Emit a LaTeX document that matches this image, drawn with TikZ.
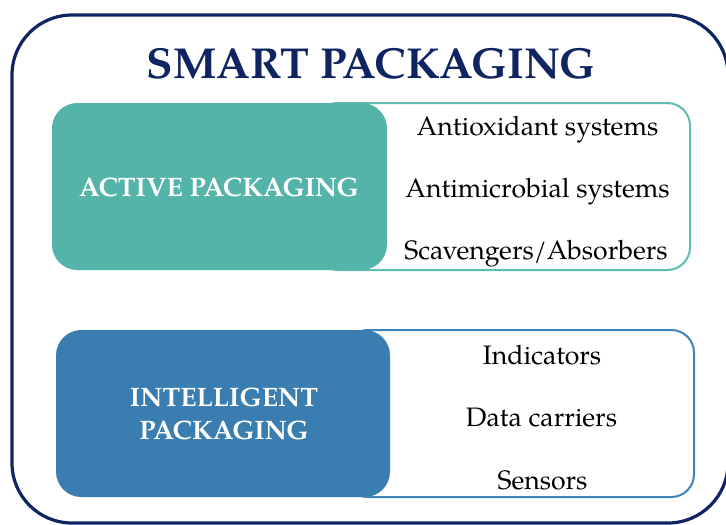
\documentclass[tikz,border=0pt]{standalone}
\usepackage{fontspec}
\setmainfont{TeX Gyre Pagella}
\definecolor{navy}{HTML}{0F2460}
\definecolor{tealfill}{HTML}{55B4AA}
\definecolor{tealline}{HTML}{5DBDB2}
\definecolor{bluefill}{HTML}{3A7DB0}
\definecolor{blueline}{HTML}{3F85BC}
\tikzset{
  outerbox/.style={draw=navy, line width=2.4pt, rounded corners=45pt, rectangle, inner sep=0pt},
  catbox/.style={rectangle, rounded corners=19pt, inner sep=0pt, draw=none},
  listbox/.style={rectangle, rounded corners=17pt, inner sep=0pt, fill=white, line width=1.5pt},
  cattext/.style={text=white, font=\fontsize{20}{24.5}\selectfont\bfseries, align=center, inner sep=0pt},
  itemtext/.style={text=black, font=\fontsize{20}{24}\selectfont, anchor=base, inner sep=0pt},
  titletext/.style={text=navy, font=\fontsize{32.5}{40}\selectfont\bfseries, anchor=base, inner sep=0pt}
}
\begin{document}
\begin{tikzpicture}[x=0.75pt,y=-0.75pt]
\useasboundingbox (0,0) rectangle (726,525);
\begin{scope}
\clip (0,0) rectangle (726,525);
\node[outerbox, minimum width=537pt, minimum height=381pt] (smart) at (370,269) {};
\end{scope}
\node[titletext] (title) at (371,78) {SMART PACKAGING};
% active packaging
\node[listbox, draw=tealline, minimum width=281.25pt, minimum height=125.25pt] (activelist) at (502.5,186.5) {};
\node[catbox, fill=tealfill, minimum width=251.25pt, minimum height=125.25pt] (active) at (219.5,186.5) {};
\node[cattext] (activelabel) at (219,187) {ACTIVE PACKAGING};
\node[itemtext] (a1) at (537.5,135) {Antioxidant systems};
\node[itemtext] (a2) at (537.5,197) {Antimicrobial systems};
\node[itemtext] (a3) at (536,259) {Scavengers/Absorbers};
% intelligent packaging
\node[listbox, draw=blueline, minimum width=261.75pt, minimum height=125.25pt] (intellist) at (519.5,413.5) {};
\node[catbox, fill=bluefill, minimum width=250.5pt, minimum height=125.25pt] (intel) at (223,413.5) {};
\node[cattext] (intellabel) at (224,414) {INTELLIGENT\\PACKAGING};
\node[itemtext] (b1) at (542,364) {Indicators};
\node[itemtext] (b2) at (541.5,426) {Data carriers};
\node[itemtext] (b3) at (542.5,489) {Sensors};
\end{tikzpicture}
\end{document}
